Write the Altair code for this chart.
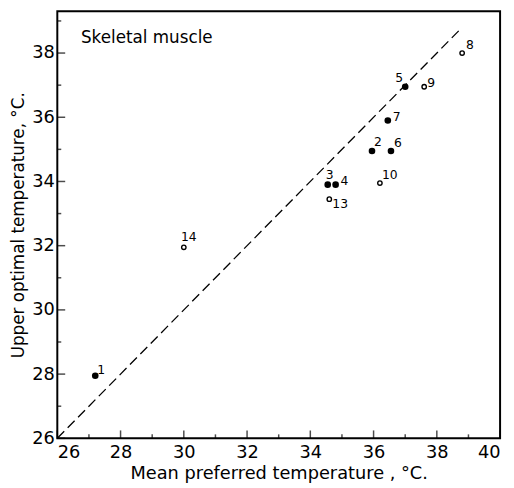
import altair as alt
import pandas as pd

# ---- data ----
point_ids = [1, 2, 3, 4, 5, 6, 7, 8, 9, 10, 13, 14]
mean_preferred = [27.2, 35.95, 34.55, 34.8, 37.0, 36.55, 36.45, 38.8, 37.6, 36.2, 34.6, 30.0]
upper_optimal = [27.95, 34.95, 33.9, 33.9, 36.95, 34.95, 35.9, 38.0, 36.95, 33.95, 33.45, 31.95]
marker_kind = ["filled"] * 7 + ["open"] * 5

diag_x = [26, 38.8]
diag_y = [26, 38.8]

x_major = [26, 28, 30, 32, 34, 36, 38, 40]
x_minor = [27, 29, 31, 33, 35, 37, 39]
y_major = [26, 28, 30, 32, 34, 36, 38]
y_minor = [27, 29, 31, 33, 35, 37, 39]

panel_title = "Skeletal muscle"
x_title = "Mean preferred temperature , °C."
y_title = "Upper optimal temperature, °C."

# ---- styling ----
FONT = "DejaVu Sans"
W, H = 449, 433
label_offsets = {1: (6, -6), 2: (6, -9), 3: (2, -10), 4: (9, -4), 5: (-6, -9),
                 6: (7, -8), 7: (9, -3), 8: (8, -8), 9: (7, -4), 10: (10, -8),
                 13: (11, 5), 14: (5, -10)}

df = pd.DataFrame({"id": point_ids, "x": mean_preferred, "y": upper_optimal,
                   "kind": marker_kind})
df["label"] = df["id"].astype(str)

xs = alt.Scale(domain=[26, 40], nice=False, zero=False)
ys = alt.Scale(domain=[26, 39.3], nice=False, zero=False)

x_axis = alt.Axis(values=x_major, title=x_title, labelPadding=5, titlePadding=4)
y_axis = alt.Axis(values=y_major, title=y_title, labelPadding=3,
                  titleX=-30, titleFontSize=17)


def X(field):
    return alt.X(field, scale=xs, axis=x_axis, title=x_title)


def Y(field):
    return alt.Y(field, scale=ys, axis=y_axis, title=y_title)


diag = alt.Chart(pd.DataFrame({"x": diag_x, "y": diag_y})).mark_line(
    strokeDash=[10, 5], strokeWidth=1.3, color="black"
).encode(x=X("x:Q"), y=Y("y:Q"))

filled = alt.Chart(df).transform_filter("datum.kind == 'filled'").mark_circle(
    size=45, color="black", opacity=1
).encode(x=X("x:Q"), y=Y("y:Q"))

opened = alt.Chart(df).transform_filter("datum.kind == 'open'").mark_point(
    shape="circle", size=20, strokeWidth=1.4, color="black", filled=False, opacity=1
).encode(x=X("x:Q"), y=Y("y:Q"))

label_layers = []
for pid, (dx, dy) in label_offsets.items():
    label_layers.append(
        alt.Chart(df).transform_filter(f"datum.id == {pid}").mark_text(
            dx=dx, dy=dy, align="center", baseline="middle", fontSize=12.5,
            font=FONT, color="black"
        ).encode(x=X("x:Q"), y=Y("y:Q"), text="label:N")
    )


def xticks(vals, length):
    return alt.Chart(pd.DataFrame({"x": vals})).mark_tick(
        orient="vertical", size=length, thickness=1.5, color="black",
        yOffset=-length / 2
    ).encode(x=X("x:Q"), y=alt.value(H))


def yticks(vals, length):
    return alt.Chart(pd.DataFrame({"y": vals})).mark_tick(
        orient="horizontal", size=length, thickness=1.5, color="black",
        xOffset=length / 2
    ).encode(y=Y("y:Q"), x=alt.value(0))


title_text = alt.Chart(pd.DataFrame({"t": [panel_title]})).mark_text(
    align="left", baseline="middle", fontSize=17, font=FONT, color="black"
).encode(x=alt.value(24), y=alt.value(27), text="t:N")

chart = alt.layer(
    diag, filled, opened, *label_layers,
    xticks(x_major, 8), xticks(x_minor, 4), yticks(y_major, 8), yticks(y_minor, 4),
    title_text,
).properties(
    width=W, height=H,
    autosize=alt.AutoSizeParams(type="none"),
    padding={"left": 50, "top": 0, "right": 6, "bottom": 45},
).configure_view(
    stroke="black", strokeWidth=2
).configure_axis(
    labelFont=FONT, labelFontSize=18, labelColor="black",
    titleFont=FONT, titleFontSize=18, titleFontWeight="normal", titleColor="black",
    domain=False, ticks=False, grid=False,
)

chart.save("out.html", embed_options={"renderer": "svg", "actions": False})
